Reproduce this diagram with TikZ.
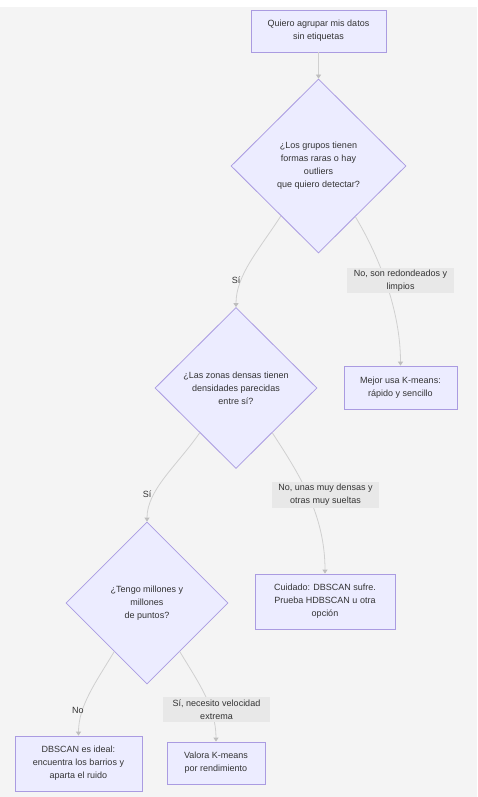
\documentclass[tikz,border=0pt]{standalone}
\usepackage{fontspec}
\setmainfont{Liberation Sans}
\usetikzlibrary{shapes.geometric,arrows.meta}
\definecolor{nodefill}{RGB}{236,236,255}
\definecolor{nodedraw}{RGB}{170,155,225}
\definecolor{edgecol}{RGB}{208,208,208}
\definecolor{tipcol}{RGB}{190,190,190}
\definecolor{bgcol}{RGB}{244,244,244}
\definecolor{lblbg}{RGB}{232,232,232}
\definecolor{txt}{RGB}{51,51,51}
\begin{document}
\begin{tikzpicture}[x=1pt,y=-1pt,
  txtfont/.style={font=\fontsize{9}{13}\selectfont, text=txt},
  lower/.style={execute at begin node={\rule{0pt}{11.5pt}}},
  box/.style={draw=nodedraw, fill=nodefill, line width=0.8pt, align=center, inner sep=0pt, txtfont, lower},
  dia/.style={diamond, draw=nodedraw, fill=nodefill, line width=0.8pt, align=center, inner sep=0pt, aspect=1, txtfont, lower},
  edge/.style={draw=edgecol, line width=0.8pt, -{Triangle[length=4pt,width=5pt,color=tipcol]}},
  lbl/.style={fill=lblbg, inner sep=0pt, align=center, txtfont},
  plainlbl/.style={inner sep=0pt, align=center, txtfont}]
\fill[white] (0,0) rectangle (477,797);
\fill[bgcol] (0,7) rectangle (477,797);
\useasboundingbox (0,0) rectangle (477,797);

\node[box, minimum width=135pt, minimum height=42pt] (q) at (318.5,31) {Quiero agrupar mis datos\\sin etiquetas};
\node[dia, minimum width=175pt, minimum height=174pt] (d1) at (318.5,166) {¿Los grupos tienen\\formas raras o hay\\outliers\\que quiero detectar?};
\node[box, minimum width=113pt, minimum height=43pt] (km) at (400.5,387.5) {Mejor usa K-means:\\rápido y sencillo};
\node[dia, minimum width=162pt, minimum height=161pt] (d2) at (236,388) {¿Las zonas densas tienen\\densidades parecidas\\entre sí?};
\node[box, minimum width=140pt, minimum height=55pt] (cu) at (325,601.5) {Cuidado: DBSCAN sufre.\\Prueba HDBSCAN u otra\\opción};
\node[dia, minimum width=162pt, minimum height=162pt] (d3) at (147,603) {¿Tengo millones y\\millones\\de puntos?};
\node[box, minimum width=127pt, minimum height=55pt] (db) at (78.5,763.5) {DBSCAN es ideal:\\encuentra los barrios y\\aparta el ruido};
\node[box, minimum width=98pt, minimum height=42pt] (va) at (216,763) {Valora K-means\\por rendimiento};

\draw[edge] (q) -- (d1);
\draw[edge] (d1.-127) .. controls +(-22,34) and +(0,-32) .. (d2.north);
\draw[edge] (d1.-54) .. controls +(24,40) and +(0,-55) .. (km.north);
\draw[edge] (d2.-129) .. controls +(-22,32) and +(0,-32) .. (d3.north);
\draw[edge] (d2.-51) .. controls +(26,40) and +(0,-60) .. (cu.north);
\draw[edge] (d3.-124) .. controls +(-18,30) and +(0,-30) .. (db.north);
\draw[edge] (d3.-56) .. controls +(18,30) and +(0,-35) .. (va.north);

\node[plainlbl] (l1) at (236,280) {Sí};
\node[lbl, minimum width=107pt, minimum height=25pt] (l2) at (400.5,280.5) {No, son redondeados y\\limpios};
\node[plainlbl] (l3) at (147,494) {Sí};
\node[lbl, minimum width=107pt, minimum height=26pt] (l4) at (325.5,495) {No, unas muy densas y\\otras muy sueltas};
\node[plainlbl] (l5) at (78,710) {No};
\node[lbl, minimum width=107pt, minimum height=25pt] (l6) at (216.5,709.5) {Sí, necesito velocidad\\extrema};
\end{tikzpicture}
\end{document}
